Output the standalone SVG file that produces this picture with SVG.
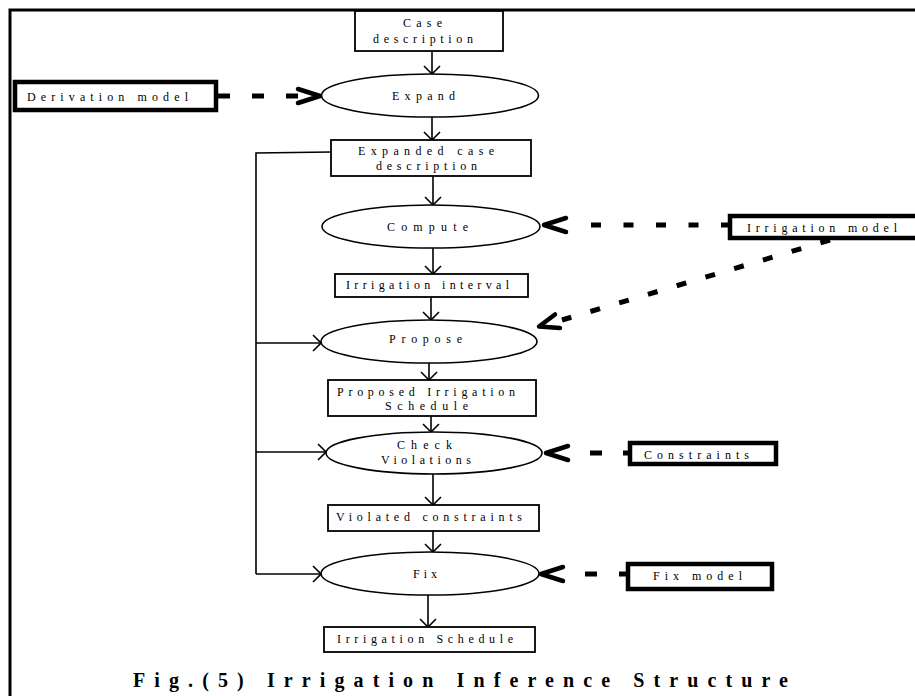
<svg xmlns="http://www.w3.org/2000/svg" width="915" height="696" viewBox="0 0 915 696">
<style>
.t{font-family:"Liberation Serif","Times New Roman",serif;font-size:12px;fill:#000}
.cap{font-family:"Liberation Serif","Times New Roman",serif;font-size:20px;font-weight:bold;fill:#000}
.box{fill:#fff;stroke:#000;stroke-width:1.8}
.tbox{fill:#fff;stroke:#000;stroke-width:4.5}
.ell{fill:#fff;stroke:#000;stroke-width:1.6}
.ln{fill:none;stroke:#000;stroke-width:1.6}
.dash{fill:none;stroke:#000;stroke-width:5}
.chev{fill:none;stroke:#000;stroke-width:4.5;stroke-linejoin:round;stroke-linecap:round}
</style>
<defs>
<marker id="arr" viewBox="-1 -10 10 20" refX="8" refY="0" markerWidth="10" markerHeight="20" markerUnits="userSpaceOnUse" orient="auto">
<path d="M0,-8 L8,0 L0,8" fill="none" stroke="#000" stroke-width="1.6"/>
</marker>
</defs>
<rect width="915" height="696" fill="#fff"/>
<g id="frame">
<path d="M10,696 L10,10 L915,10" fill="none" stroke="#000" stroke-width="3"/>
</g>
<g id="connectors">
<line class="ln" x1="432" y1="51" x2="432" y2="74" marker-end="url(#arr)"/>
<line class="ln" x1="432" y1="117" x2="432" y2="140" marker-end="url(#arr)"/>
<line class="ln" x1="433" y1="176" x2="433" y2="205" marker-end="url(#arr)"/>
<line class="ln" x1="433" y1="248" x2="433" y2="274" marker-end="url(#arr)"/>
<line class="ln" x1="431" y1="297" x2="431" y2="320" marker-end="url(#arr)"/>
<line class="ln" x1="429" y1="363" x2="429" y2="380" marker-end="url(#arr)"/>
<line class="ln" x1="431" y1="416" x2="431" y2="432" marker-end="url(#arr)"/>
<line class="ln" x1="433" y1="474" x2="433" y2="505" marker-end="url(#arr)"/>
<line class="ln" x1="433" y1="531" x2="433" y2="552" marker-end="url(#arr)"/>
<line class="ln" x1="428" y1="595" x2="428" y2="627" marker-end="url(#arr)"/>
<polyline class="ln" points="331,152 256,153 256,574"/>
<line class="ln" x1="256" y1="343" x2="321" y2="343" marker-end="url(#arr)"/>
<line class="ln" x1="256" y1="452" x2="326" y2="452" marker-end="url(#arr)"/>
<line class="ln" x1="256" y1="574" x2="321" y2="574" marker-end="url(#arr)"/>
<line class="dash" x1="218" y1="96" x2="298" y2="96" stroke-dasharray="12 22"/>
<polyline class="chev" points="298,89 320,96 298,103"/>
<line class="dash" x1="731" y1="225" x2="590" y2="225" stroke-dasharray="10 22.5"/>
<polyline class="chev" points="566,218 544,225 566,232"/>
<line class="dash" x1="830" y1="240" x2="562" y2="320" stroke-dasharray="10 20"/>
<polyline class="chev" points="555,314.5 539,326.5 560,328"/>
<line class="dash" x1="630" y1="453" x2="590" y2="453" stroke-dasharray="7 21 12 100"/>
<polyline class="chev" points="568,446 546,453 568,460"/>
<line class="dash" x1="628" y1="574" x2="585" y2="574" stroke-dasharray="9 22 12 100"/>
<polyline class="chev" points="563,567 541,574 563,581"/>
</g>
<g id="case">
<rect class="box" x="355" y="11" width="148" height="40"/>
<text class="t" x="403" y="26.5" textLength="39" lengthAdjust="spacing">Case</text>
<text class="t" x="373" y="42.5" textLength="100" lengthAdjust="spacing">description</text>
</g>
<g id="expand">
<ellipse class="ell" cx="430" cy="95.5" rx="108.5" ry="21.5"/>
<text class="t" x="392" y="99.5" textLength="63" lengthAdjust="spacing">Expand</text>
</g>
<g id="derivation">
<rect class="tbox" x="15" y="82" width="201" height="28"/>
<text class="t" x="27" y="100.5" textLength="161" lengthAdjust="spacing">Derivation model</text>
</g>
<g id="expanded">
<rect class="box" x="331" y="140" width="200" height="36"/>
<text class="t" x="358" y="154.5" textLength="136" lengthAdjust="spacing">Expanded case</text>
<text class="t" x="376" y="169.5" textLength="101" lengthAdjust="spacing">description</text>
</g>
<g id="compute">
<ellipse class="ell" cx="431" cy="226.5" rx="109" ry="21.5"/>
<text class="t" x="387" y="230.5" textLength="81" lengthAdjust="spacing">Compute</text>
</g>
<g id="interval">
<rect class="box" x="335" y="274" width="193" height="23"/>
<text class="t" x="346" y="288.5" textLength="163" lengthAdjust="spacing">Irrigation interval</text>
</g>
<g id="propose">
<ellipse class="ell" cx="429" cy="341.5" rx="108" ry="21.5"/>
<text class="t" x="389" y="342.5" textLength="73" lengthAdjust="spacing">Propose</text>
</g>
<g id="proposed">
<rect class="box" x="328" y="380" width="208" height="36"/>
<text class="t" x="337" y="395.5" textLength="178" lengthAdjust="spacing">Proposed Irrigation</text>
<text class="t" x="385" y="409.5" textLength="83" lengthAdjust="spacing">Schedule</text>
</g>
<g id="check">
<ellipse class="ell" cx="434" cy="453" rx="108" ry="21"/>
<text class="t" x="397" y="448.5" textLength="55" lengthAdjust="spacing">Check</text>
<text class="t" x="381" y="463.5" textLength="90" lengthAdjust="spacing">Violations</text>
</g>
<g id="violated">
<rect class="box" x="328" y="505" width="211" height="26"/>
<text class="t" x="336" y="520.5" textLength="186" lengthAdjust="spacing">Violated constraints</text>
</g>
<g id="fix">
<ellipse class="ell" cx="430" cy="573.5" rx="109" ry="21.5"/>
<text class="t" x="413" y="577.5" textLength="24" lengthAdjust="spacing">Fix</text>
</g>
<g id="schedule">
<rect class="box" x="324" y="627" width="211" height="25"/>
<text class="t" x="337" y="642.5" textLength="176" lengthAdjust="spacing">Irrigation Schedule</text>
</g>
<g id="irrigationmodel">
<rect class="tbox" x="730" y="216" width="190" height="22"/>
<text class="t" x="747" y="232" textLength="150" lengthAdjust="spacing">Irrigation model</text>
</g>
<g id="constraints">
<rect class="tbox" x="630" y="443" width="146" height="21"/>
<text class="t" x="644" y="459" textLength="105" lengthAdjust="spacing">Constraints</text>
</g>
<g id="fixmodel">
<rect class="tbox" x="628" y="564" width="144" height="25"/>
<text class="t" x="653" y="579.5" textLength="89" lengthAdjust="spacing">Fix model</text>
</g>
<g id="caption">
<text class="cap" x="133" y="687" textLength="655" lengthAdjust="spacing">Fig.(5) Irrigation Inference Structure</text>
</g>
</svg>
